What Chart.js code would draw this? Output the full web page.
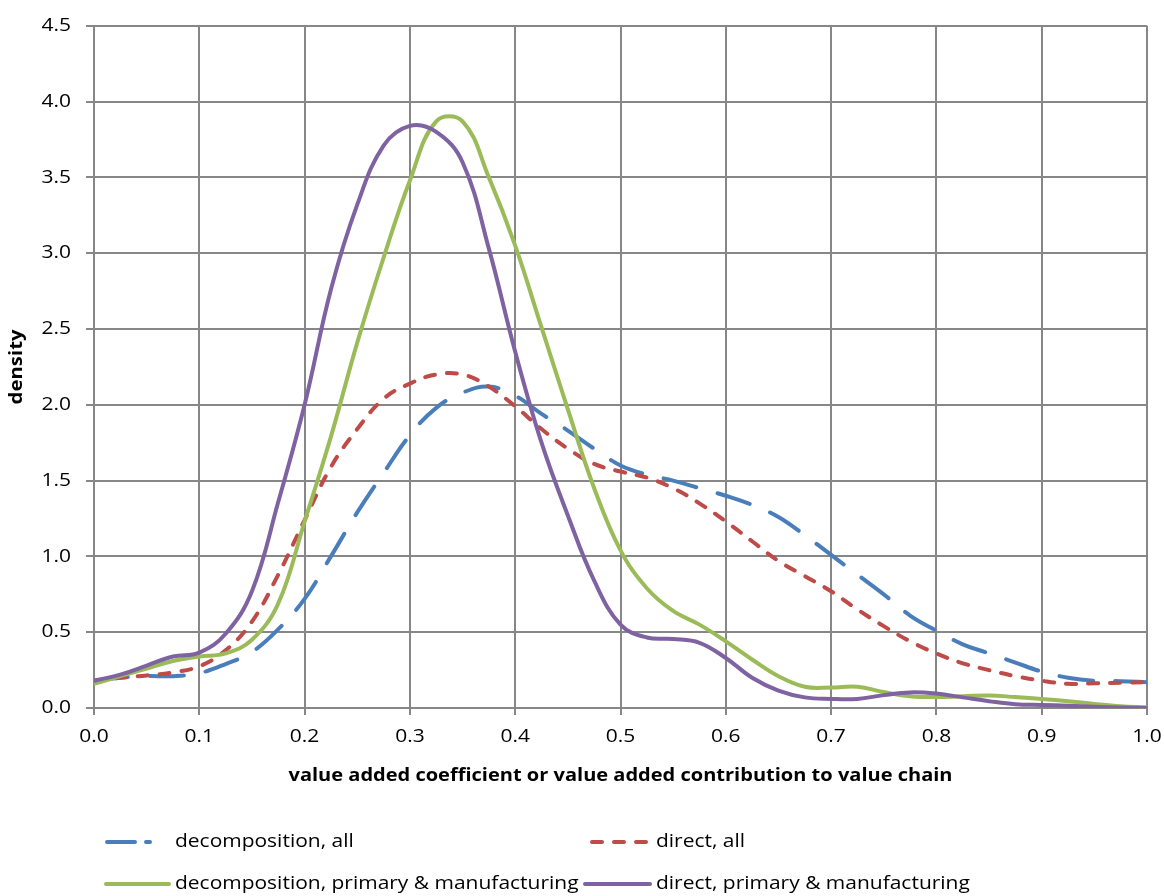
<!DOCTYPE html>
<html>
<head>
<meta charset="utf-8">
<script src="https://cdn.jsdelivr.net/npm/chart.js@4/dist/chart.umd.min.js"></script>
<style>
html,body{margin:0;padding:0;background:#fff;}
#wrap{width:1164px;height:896px;position:relative;}
</style>
</head>
<body>
<div id="wrap"><canvas id="c" width="1164" height="896"></canvas></div>
<script>
// x positions (value added coefficient), step 0.025
const xValues = [0,0.025,0.05,0.075,0.1,0.125,0.15,0.175,0.2,0.225,0.25,0.275,0.3,0.325,0.35,0.375,0.4,0.425,0.45,0.475,0.5,0.525,0.55,0.575,0.6,0.625,0.65,0.675,0.7,0.725,0.75,0.775,0.8,0.825,0.85,0.875,0.9,0.925,0.95,0.975,1.0];

const decompositionAll = [0.18,0.20,0.21,0.21,0.23,0.29,0.37,0.52,0.72,1.0,1.29,1.55,1.80,1.98,2.08,2.12,2.06,1.94,1.83,1.71,1.60,1.54,1.50,1.45,1.40,1.34,1.26,1.14,1.01,0.88,0.75,0.61,0.51,0.42,0.36,0.30,0.24,0.20,0.18,0.177,0.17];

const directAll = [0.18,0.20,0.215,0.235,0.275,0.38,0.57,0.88,1.24,1.59,1.84,2.04,2.14,2.2,2.2,2.12,1.99,1.84,1.71,1.61,1.56,1.52,1.45,1.35,1.23,1.10,0.97,0.87,0.77,0.65,0.54,0.44,0.36,0.295,0.25,0.21,0.18,0.16,0.163,0.167,0.17];

const decompositionPM = [0.16,0.21,0.26,0.31,0.34,0.36,0.45,0.69,1.23,1.79,2.41,2.97,3.48,3.87,3.87,3.5,3.05,2.51,1.97,1.45,1.04,0.79,0.64,0.55,0.44,0.32,0.21,0.14,0.135,0.14,0.105,0.078,0.072,0.077,0.083,0.072,0.06,0.045,0.027,0.012,0.005];

const directPM = [0.18,0.22,0.28,0.34,0.365,0.49,0.77,1.36,2.0,2.76,3.32,3.71,3.84,3.80,3.60,3.03,2.35,1.75,1.27,0.84,0.55,0.465,0.455,0.43,0.33,0.20,0.115,0.07,0.06,0.06,0.085,0.103,0.095,0.07,0.045,0.025,0.02,0.015,0.008,0.003,0.0];

const seriesNames = ['decomposition, all','direct, all','decomposition, primary & manufacturing','direct, primary & manufacturing'];
const xTitle = 'value added coefficient or value added contribution to value chain';
const yTitle = 'density';

const FONT = '"Open Sans", sans-serif';
const TEXT_STRETCH = 1.165; // reference text is rendered wider than Open Sans
const pts = arr => arr.map((v,i)=>({x:xValues[i], y:v}));

const colors = ['#4A7EBB','#BE4B48','#9BBB59','#7F62A1'];
const dashes = [[34,22],[10,12],[],[]];

const canvas = document.getElementById('c');
const ctx0 = canvas.getContext('2d');
const origFillText = ctx0.fillText.bind(ctx0);
ctx0.fillText = function(text, x, y, maxWidth){
  this.save();
  this.translate(x, y);
  this.scale(TEXT_STRETCH, 1);
  origFillText(text, 0, 0);
  this.restore();
};

const legendPlugin = {
  id:'customLegend',
  afterDraw(chart){
    const ctx = chart.ctx;
    const items = [
      {i:0, x1:107, x2:150, tx:175, y:842, dash:[28,11]},
      {i:1, x1:592, x2:648, tx:656, y:842, dash:[10,12]},
      {i:2, x1:106, x2:169, tx:175, y:884, dash:[]},
      {i:3, x1:585, x2:650, tx:656, y:884, dash:[]}
    ];
    ctx.save();
    items.forEach(it=>{
      ctx.beginPath();
      ctx.setLineDash(it.dash);
      ctx.lineCap = 'round';
      ctx.lineWidth = 4;
      ctx.strokeStyle = colors[it.i];
      ctx.moveTo(it.x1, it.y);
      ctx.lineTo(it.x2, it.y);
      ctx.stroke();
      ctx.setLineDash([]);
      ctx.fillStyle = '#000';
      ctx.font = '18px ' + FONT;
      ctx.textBaseline = 'middle';
      ctx.textAlign = 'left';
      ctx.fillText(seriesNames[it.i], it.tx, it.y);
    });
    ctx.restore();
  }
};

const datasets = [0,1,2,3].map(k=>({
  label: seriesNames[k],
  data: pts([decompositionAll,directAll,decompositionPM,directPM][k]),
  borderColor: colors[k],
  backgroundColor: colors[k],
  borderWidth: 4,
  borderDash: dashes[k],
  borderCapStyle: 'round',
  borderJoinStyle: 'round',
  pointRadius: 0,
  tension: 0.4,
  fill: false
}));
datasets.forEach((d,i)=>{ d.order = 4 - i; });

new Chart(canvas, {
  type: 'line',
  data: { datasets },
  options: {
    responsive: false,
    animation: false,
    devicePixelRatio: 1,
    layout: { padding: { top: 22, right: 17, left: 0, bottom: 96 } },
    plugins: { legend: { display: false }, tooltip: { enabled: false } },
    scales: {
      x: {
        type: 'linear', min: 0, max: 1,
        afterFit(s){ s.height = 92; s.paddingLeft = 0; s.paddingRight = 0; },
        ticks: { stepSize: 0.1, color: '#000', padding: 11, font: { family: FONT, size: 18 },
                 callback: v => Number(v).toFixed(1), maxRotation: 0 },
        grid: { color: '#878787', lineWidth: 2, tickLength: 7, drawTicks: true },
        border: { color: '#878787', width: 2 },
        title: { display: true, text: xTitle, color: '#000', font: { family: FONT, size: 17.2, weight: 'bold' }, padding: { top: 0, bottom: 14 } }
      },
      y: {
        min: 0, max: 4.5,
        afterFit(s){ s.width = 94; },
        ticks: { stepSize: 0.5, color: '#000', padding: 15, font: { family: FONT, size: 18 },
                 callback: v => Number(v).toFixed(1) },
        grid: { color: '#878787', lineWidth: 2, tickLength: 8, drawTicks: true },
        border: { color: '#878787', width: 2 },
        title: { display: true, text: yTitle, color: '#000', font: { family: FONT, size: 17.5, weight: 'bold' }, padding: { top: 7, bottom: 0 } }
      }
    }
  },
  plugins: [legendPlugin]
});
</script>
</body>
</html>
